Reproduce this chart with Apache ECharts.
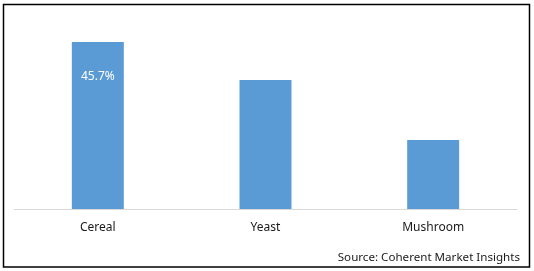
<!DOCTYPE html>
<html>
<head>
<meta charset="utf-8">
<style>
html,body{margin:0;padding:0;background:#fff;}
#chart{width:534px;height:271px;}
</style>
<script src="https://cdn.jsdelivr.net/npm/echarts@6/dist/echarts.min.js"></script>
</head>
<body>
<div id="chart"></div>
<script>
const categories = ['Cereal', 'Yeast', 'Mushroom'];
const values = [45.7, 35.3, 18.9];
const labelShown = [true, false, false];
const sourceText = 'Source: Coherent Market Insights';

const chart = echarts.init(document.getElementById('chart'), null, {renderer: 'canvas'});
const font = '"Noto Sans", sans-serif';
chart.setOption({
  animation: false,
  grid: {left: 14, right: 17, top: 26.3, bottom: 62},
  xAxis: {
    type: 'category',
    data: categories,
    axisLine: {lineStyle: {color: '#d9d9d9', width: 1}},
    axisTick: {show: false},
    axisLabel: {color: '#1a1a1a', fontFamily: font, fontSize: 12, margin: 13}
  },
  yAxis: {
    type: 'value', min: 0, max: 50, show: false,
    splitLine: {show: false}
  },
  series: [{
    type: 'bar',
    data: values.map((v, i) => ({
      value: v,
      label: {
        show: labelShown[i],
        position: 'insideTop',
        distance: 29,
        color: '#ffffff',
        fontFamily: font,
        fontSize: 12,
        formatter: p => p.value.toFixed(1) + '%'
      }
    })),
    barWidth: '31%',
    itemStyle: {color: '#5b9bd5'}
  }],
  graphic: [
    {
      type: 'rect',
      shape: {x: 3.5, y: 4.5, width: 526, height: 262.5},
      style: {fill: 'none', stroke: '#000', lineWidth: 1.5},
      silent: true
    },
    {
      type: 'text',
      right: 14,
      top: 252,
      style: {text: sourceText, fill: '#1a1a1a', font: '11.6px "Noto Sans", sans-serif'}
    }
  ]
});
</script>
</body>
</html>
